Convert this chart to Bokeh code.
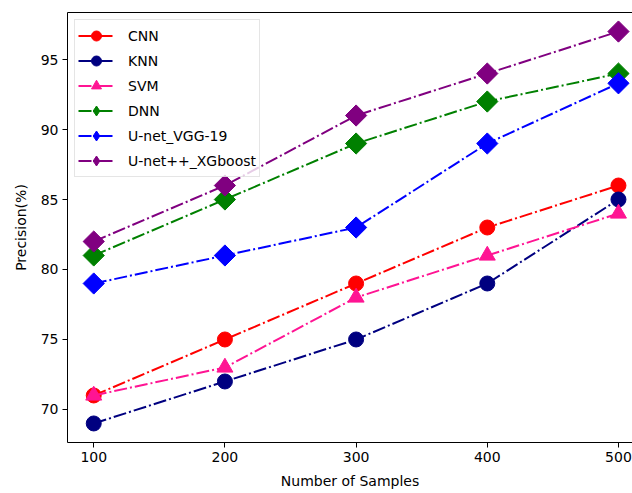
import numpy as np
from bokeh.plotting import figure
from bokeh.models import Range1d, FixedTicker, LinearAxis, Legend
from bokeh.embed import file_html
from bokeh.resources import INLINE

samples = [100, 200, 300, 400, 500]
cnn = [71, 75, 79, 83, 86]
knn = [69, 72, 75, 79, 85]
svm = [71, 73, 78, 81, 84]
dnn = [81, 85, 89, 92, 94]
vgg = [79, 81, 83, 89, 93.3]
xgb = [82, 86, 91, 94, 97]
x_ticks = [100, 200, 300, 400, 500]
y_ticks = [70, 75, 80, 85, 90, 95]

series = [
    ("CNN", cnn, "red", "circle"),
    ("KNN", knn, "navy", "circle"),
    ("SVM", svm, "deeppink", "triangle"),
    ("DNN", dnn, "green", "diamond"),
    ("U-net_VGG-19", vgg, "blue", "diamond"),
    ("U-net++_XGboost", xgb, "purple", "diamond"),
]

FONT = "DejaVu Sans"
DASH = "13 3 2 3"

p = figure(frame_width=565, frame_height=430,
           x_range=Range1d(80, 510.7), y_range=Range1d(67.64, 98.36),
           output_backend="svg", toolbar_location=None,
           min_border_left=67, min_border_right=0,
           min_border_top=12, min_border_bottom=51)
p.outline_line_color = None
p.xgrid.visible = False
p.ygrid.visible = False
p.background_fill_color = "white"
p.border_fill_color = "white"

for ax in (p.xaxis[0], p.yaxis[0]):
    ax.axis_line_color = "black"
    ax.major_tick_line_color = "black"
    ax.major_tick_out = 5
    ax.major_tick_in = 0
    ax.minor_tick_line_color = None
    ax.major_label_text_font = FONT
    ax.major_label_text_font_size = "14px"
    ax.major_label_text_color = "black"
    ax.axis_label_text_font = FONT
    ax.axis_label_text_font_size = "14px"
    ax.axis_label_text_font_style = "normal"
    ax.axis_label_text_color = "black"

p.xaxis[0].ticker = FixedTicker(ticks=x_ticks)
p.yaxis[0].ticker = FixedTicker(ticks=y_ticks)
p.xaxis[0].axis_label = "Number of Samples"
p.yaxis[0].axis_label = "Precision(%)"
p.xaxis[0].axis_label_standoff = 8
p.yaxis[0].axis_label_standoff = 9
p.xaxis[0].major_label_standoff = 4
p.yaxis[0].major_label_standoff = 4

top = LinearAxis(ticker=FixedTicker(ticks=[]), major_label_text_font_size="0px",
                 major_tick_out=0, major_tick_in=0, minor_tick_out=0, minor_tick_in=0,
                 axis_line_color="black")
p.add_layout(top, "above")

items = []
for name, vals, color, marker in series:
    r1 = p.line(samples, vals, line_color=color, line_width=2, line_dash=DASH)
    if marker == "diamond":
        # diamond-shaped copy hidden beneath the rotated squares; used for the legend key
        r2 = p.scatter(samples, vals, marker="diamond", size=18,
                       fill_color=color, line_color=color)
        p.scatter(samples, vals, marker="square", size=15, angle=np.pi / 4,
                  fill_color=color, line_color=color)
    elif marker == "triangle":
        r2 = p.scatter(samples, vals, marker="triangle", size=16,
                       fill_color=color, line_color=color)
    else:
        r2 = p.scatter(samples, vals, marker="circle", size=15,
                       fill_color=color, line_color=color)
    items.append((name, [r1, r2]))

legend = Legend(items=items, location="top_left")
legend.margin = 7
legend.padding = 3
legend.spacing = 0
legend.glyph_height = 25
legend.label_height = 25
legend.glyph_width = 36
legend.label_standoff = 14
legend.label_text_font = FONT
legend.label_text_font_size = "14px"
legend.label_text_color = "black"
legend.border_line_color = "#cccccc"
legend.border_line_width = 1
legend.background_fill_color = "white"
legend.background_fill_alpha = 0.8
p.add_layout(legend, "center")

open("out.html", "w").write(file_html(p, INLINE))
